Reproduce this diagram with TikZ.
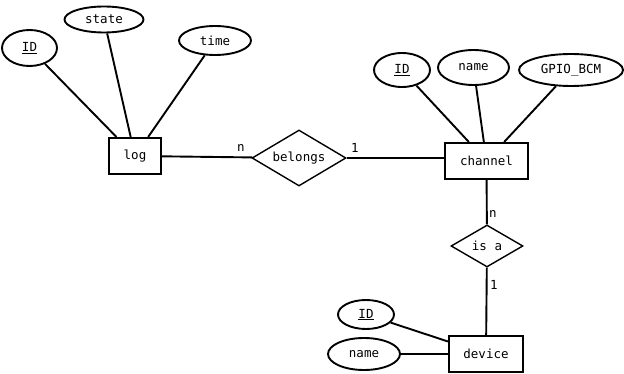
\documentclass[tikz,border=0pt]{standalone}
\usepackage{fontspec}
\setmainfont{DejaVu Sans Mono}
\usetikzlibrary{shapes.geometric}
\tikzset{
  ent/.style={draw, rectangle, line width=2pt, inner sep=0pt, font=\fontsize{12.5}{14}\selectfont},
  attr/.style={draw, ellipse, line width=1.9pt, inner sep=0pt, font=\fontsize{12.5}{14}\selectfont},
  rel/.style={draw, diamond, line width=1.4pt, inner sep=0pt, font=\fontsize{12.5}{14}\selectfont},
  card/.style={inner sep=0pt, font=\fontsize{12.5}{14}\selectfont},
  conn/.style={line width=1.9pt},
}
\begin{document}
\begin{tikzpicture}[x=1pt,y=-1pt]
\useasboundingbox (0,0) rectangle (624,374);
% entities
\node[ent, minimum width=52pt, minimum height=36pt] (log) at (135,156) {log};
\node[ent, minimum width=83pt, minimum height=36pt] (channel) at (486.5,161) {channel};
\node[ent, minimum width=74pt, minimum height=36pt] (device) at (486,354) {device};
% relationships
\node[rel, aspect=1.68, minimum width=94pt, minimum height=56pt] (belongs) at (299,158) {belongs};
\node[rel, aspect=1.71, minimum width=72pt, minimum height=42pt] (isa) at (487,246) {is a};
% attributes of log
\node[attr, minimum width=55pt, minimum height=36pt] (logid) at (29.5,48) {\underline{ID}};
\node[attr, minimum width=79pt, minimum height=26pt] (state) at (104,19.5) {state};
\node[attr, minimum width=72pt, minimum height=29pt] (time) at (215,40.5) {time};
% attributes of channel
\node[attr, minimum width=56pt, minimum height=34pt] (chid) at (402,70) {\underline{ID}};
\node[attr, minimum width=71pt, minimum height=35pt] (chname) at (473.5,67.5) {name};
\node[attr, minimum width=104pt, minimum height=32pt] (gpio) at (571,70) {GPIO\_BCM};
% attributes of device
\node[attr, minimum width=56pt, minimum height=29pt] (devid) at (366,314.5) {\underline{ID}};
\node[attr, minimum width=72pt, minimum height=32pt] (devname) at (364,354) {name};
% connectors
\draw[conn] (logid) -- (log);
\draw[conn] (state) -- (log);
\draw[conn] (time) -- (log);
\draw[conn] (chid) -- (channel);
\draw[conn] (chname) -- (channel);
\draw[conn] (gpio) -- (channel);
\draw[conn] (devid) -- (device);
\draw[conn] (devname) -- (device);
\draw[conn] (log) -- (belongs);
\draw[conn] (belongs) -- (channel.west |- belongs);
\draw[conn] (channel) -- (isa);
\draw[conn] (isa) -- (device);
% cardinalities
\node[card] (c1) at (241,148) {n};
\node[card] (c2) at (355,148) {1};
\node[card] (c3) at (493,214) {n};
\node[card] (c4) at (494,285) {1};
\end{tikzpicture}
\end{document}
